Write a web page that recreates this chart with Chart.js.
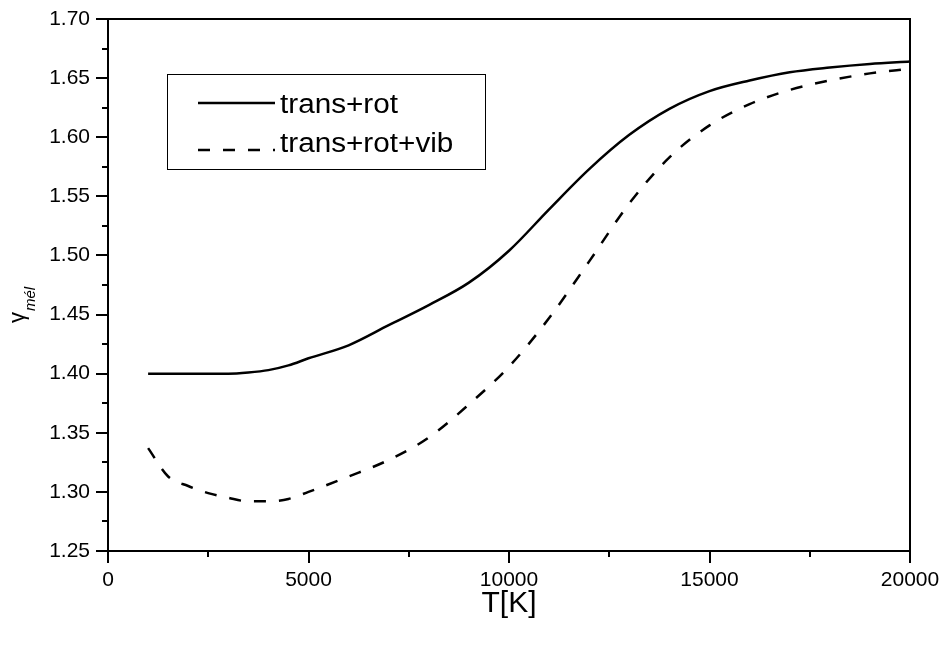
<!DOCTYPE html>
<html>
<head>
<meta charset="utf-8">
<script src="https://cdn.jsdelivr.net/npm/chart.js@4/dist/chart.umd.min.js"></script>
<style>
  html, body { margin: 0; padding: 0; background: #fff; }
</style>
</head>
<body>
<canvas id="mycanvas" width="951" height="646"></canvas>
<script>
// values
var tempRot = [1000, 2000, 3000, 3500, 4000, 4500, 5000, 6000, 7000, 8000, 9000, 10000, 11000, 12000, 13000, 14000, 15000, 16000, 17000, 18000, 19000, 20000];
var gammaRot = [1.400, 1.400, 1.400, 1.401, 1.403, 1.407, 1.413, 1.424, 1.441, 1.458, 1.477, 1.504, 1.539, 1.573, 1.602, 1.624, 1.639, 1.648, 1.655, 1.659, 1.662, 1.664];

var tempVib = [1000, 1500, 2000, 2500, 3000, 3500, 4000, 4500, 5000, 6000, 7000, 8000, 9000, 10000, 11000, 12000, 13000, 14000, 15000, 16000, 17000, 18000, 19000, 20000];
var gammaVib = [1.337, 1.313, 1.305, 1.299, 1.295, 1.292, 1.292, 1.294, 1.300, 1.313, 1.327, 1.346, 1.374, 1.406, 1.447, 1.495, 1.544, 1.583, 1.610, 1.628, 1.640, 1.648, 1.654, 1.658];

var seriesLabels = ['trans+rot', 'trans+rot+vib'];
var xMajor = [0, 5000, 10000, 15000, 20000];
var xMinor = [2500, 7500, 12500, 17500];
var yMajor = [1.25, 1.30, 1.35, 1.40, 1.45, 1.50, 1.55, 1.60, 1.65, 1.70];
var yMinor = [1.275, 1.325, 1.375, 1.425, 1.475, 1.525, 1.575, 1.625, 1.675];

var FONT = '"Liberation Sans", Arial, sans-serif';

function toPoints(xs, ys) {
  var pts = [];
  for (var i = 0; i < xs.length; i++) {
    pts.push({ x: xs[i], y: ys[i] });
  }
  return pts;
}

// frame, outward ticks, axis titles and the boxed legend
var framePlugin = {
  id: 'frame',
  afterDatasetsDraw: function (chart) {
    var ctx = chart.ctx;
    var a = chart.chartArea;
    var xs = chart.scales.x, ys = chart.scales.y;
    ctx.save();
    ctx.strokeStyle = '#000';
    ctx.lineWidth = 2;
    ctx.strokeRect(a.left, a.top, a.right - a.left, a.bottom - a.top);

    ctx.beginPath();
    xMajor.forEach(function (v) {
      var px = Math.round(xs.getPixelForValue(v));
      ctx.moveTo(px, a.bottom); ctx.lineTo(px, a.bottom + 12);
    });
    xMinor.forEach(function (v) {
      var px = Math.round(xs.getPixelForValue(v));
      ctx.moveTo(px, a.bottom); ctx.lineTo(px, a.bottom + 6);
    });
    yMajor.forEach(function (v) {
      var py = Math.round(ys.getPixelForValue(v));
      ctx.moveTo(a.left, py); ctx.lineTo(a.left - 12, py);
    });
    yMinor.forEach(function (v) {
      var py = Math.round(ys.getPixelForValue(v));
      ctx.moveTo(a.left, py); ctx.lineTo(a.left - 6, py);
    });
    ctx.stroke();

    // x title
    ctx.fillStyle = '#000';
    ctx.font = '30px ' + FONT;
    ctx.textAlign = 'center';
    ctx.textBaseline = 'alphabetic';
    ctx.fillText('T[K]', (a.left + a.right) / 2, 612);

    // y title, gamma with subscript
    ctx.save();
    ctx.translate(24, 323);
    ctx.rotate(-Math.PI / 2);
    ctx.textAlign = 'left';
    ctx.font = '22px ' + FONT;
    ctx.fillText('γ', 0, 0);
    var gw = ctx.measureText('γ').width;
    ctx.font = 'italic 15px ' + FONT;
    ctx.fillText('mél', gw + 1, 11);
    ctx.restore();

    // legend box
    ctx.lineWidth = 1;
    ctx.strokeRect(167.5, 74.5, 318, 95);
    var rows = [103, 150];
    var base = [113, 152];
    chart.data.datasets.forEach(function (ds, i) {
      ctx.beginPath();
      ctx.lineWidth = 2.5;
      ctx.setLineDash(ds.borderDash || []);
      ctx.moveTo(198, rows[i]);
      ctx.lineTo(275, rows[i]);
      ctx.stroke();
      ctx.setLineDash([]);
      ctx.save();
      ctx.translate(280, base[i]);
      ctx.scale(1.1, 1);
      ctx.font = '27px ' + FONT;
      ctx.textAlign = 'left';
      ctx.fillText(ds.label, 0, 0);
      ctx.restore();
    });
    ctx.restore();
  }
};

var ctx = document.getElementById('mycanvas').getContext('2d');

var chart = new Chart(ctx, {
  type: 'line',
  data: {
    datasets: [
      {
        label: seriesLabels[0],
        data: toPoints(tempRot, gammaRot),
        borderColor: '#000',
        borderWidth: 2.5,
        pointRadius: 0,
        fill: false,
        cubicInterpolationMode: 'monotone'
      },
      {
        label: seriesLabels[1],
        data: toPoints(tempVib, gammaVib),
        borderColor: '#000',
        borderWidth: 2.5,
        borderDash: [12, 13],
        pointRadius: 0,
        fill: false,
        cubicInterpolationMode: 'monotone'
      }
    ]
  },
  options: {
    responsive: false,
    animation: false,
    devicePixelRatio: 1,
    layout: { padding: { top: 19, right: 41, left: 0, bottom: 0 } },
    plugins: {
      legend: { display: false },
      tooltip: { enabled: false }
    },
    scales: {
      x: {
        type: 'linear',
        min: 0,
        max: 20000,
        grid: { display: false, drawTicks: false },
        border: { display: false },
        ticks: {
          stepSize: 5000,
          padding: 17,
          color: '#000',
          font: { family: FONT, size: 21 },
          maxRotation: 0,
          callback: function (v) { return String(v); }
        },
        afterFit: function (scale) {
          scale.height = 95;
          scale.paddingLeft = 0;
          scale.paddingRight = 0;
        }
      },
      y: {
        type: 'linear',
        min: 1.25,
        max: 1.70,
        grid: { display: false, drawTicks: false },
        border: { display: false },
        ticks: {
          stepSize: 0.05,
          padding: 18,
          color: '#000',
          font: { family: FONT, size: 21 },
          callback: function (v) { return Number(v).toFixed(2); }
        },
        afterFit: function (scale) {
          scale.width = 108;
          scale.paddingTop = 0;
          scale.paddingBottom = 0;
        }
      }
    }
  },
  plugins: [framePlugin]
});
</script>
</body>
</html>
